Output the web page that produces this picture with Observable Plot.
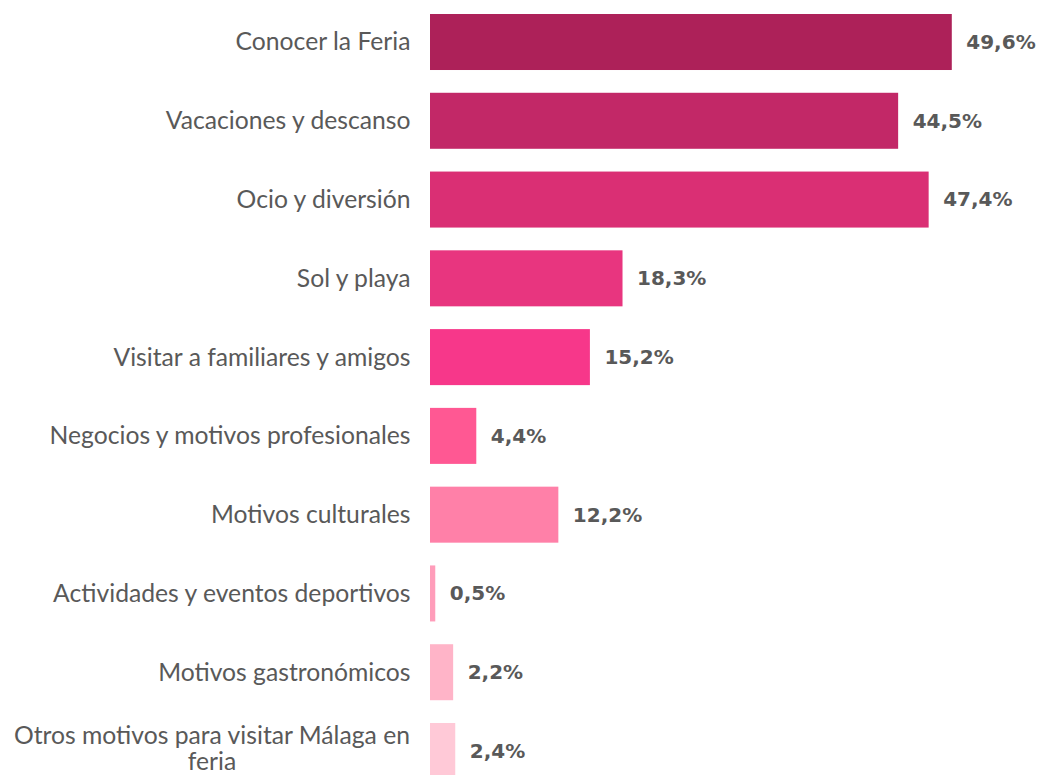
<!DOCTYPE html>
<html><head><meta charset="utf-8">
<script src="https://cdn.jsdelivr.net/npm/d3@7"></script>
<script src="https://cdn.jsdelivr.net/npm/@observablehq/plot@0.6"></script>
<style>body{margin:0;background:#fff}</style>
</head><body><div id="chart"></div>
<script>
const categories = [
  "Conocer la Feria",
  "Vacaciones y descanso",
  "Ocio y diversión",
  "Sol y playa",
  "Visitar a familiares y amigos",
  "Negocios y motivos profesionales",
  "Motivos culturales",
  "Actividades y eventos deportivos",
  "Motivos gastronómicos",
  "Otros motivos para visitar Málaga en\nferia"
];
const values = [49.6, 44.5, 47.4, 18.3, 15.2, 4.4, 12.2, 0.5, 2.2, 2.4];
const colors = ["#AD2159", "#C22867", "#DA2F74", "#E8357F", "#F7378A", "#FF5893", "#FF80A8", "#FF9DBA", "#FFB4C8", "#FFC9D7"];

const data = categories.map((c, i) => ({
  category: c,
  value: values[i],
  color: colors[i],
  label: values[i].toFixed(1).replace(".", ",") + "%",
  wrapped: c.includes("\n")
}));

const catFont = "Lato";
const catSize = 24.7;
const textColor = "#595959";
const labelGap = 20;

// measure wrapped label width to center its lines
const ctx = document.createElement("canvas").getContext("2d");
ctx.font = `${catSize}px ${catFont}`;
function blockWidth(s) { return d3.max(s.split("\n"), l => ctx.measureText(l).width); }

const plot = Plot.plot({
  width: 1041,
  height: 775,
  marginLeft: 430,
  marginRight: 85,
  marginTop: 14,
  marginBottom: -4,
  x: {domain: [0, 50], axis: null},
  y: {domain: categories, paddingInner: 0.289, paddingOuter: 0, round: false, axis: null},
  color: {type: "identity"},
  marks: [
    Plot.barX(data, {y: "category", x: "value", fill: "color"}),
    Plot.text(data, {
      y: "category", x: "value", text: "label", textAnchor: "start", dx: 14,
      fill: textColor, fontWeight: "bold", fontSize: 20, fontFamily: "DejaVu Sans"
    }),
    Plot.text(data.filter(d => !d.wrapped), {
      y: "category", x: 0, text: "category", textAnchor: "end", dx: -labelGap,
      fill: textColor, fontSize: catSize, fontFamily: catFont
    }),
    ...data.filter(d => d.wrapped).map(d => Plot.text([d], {
      y: "category", x: 0, text: "category", textAnchor: "middle",
      dx: -labelGap - blockWidth(d.category) / 2, dy: -3, lineHeight: 1.08,
      fill: textColor, fontSize: catSize, fontFamily: catFont
    }))
  ]
});
document.getElementById("chart").append(plot);
</script>
</body></html>
